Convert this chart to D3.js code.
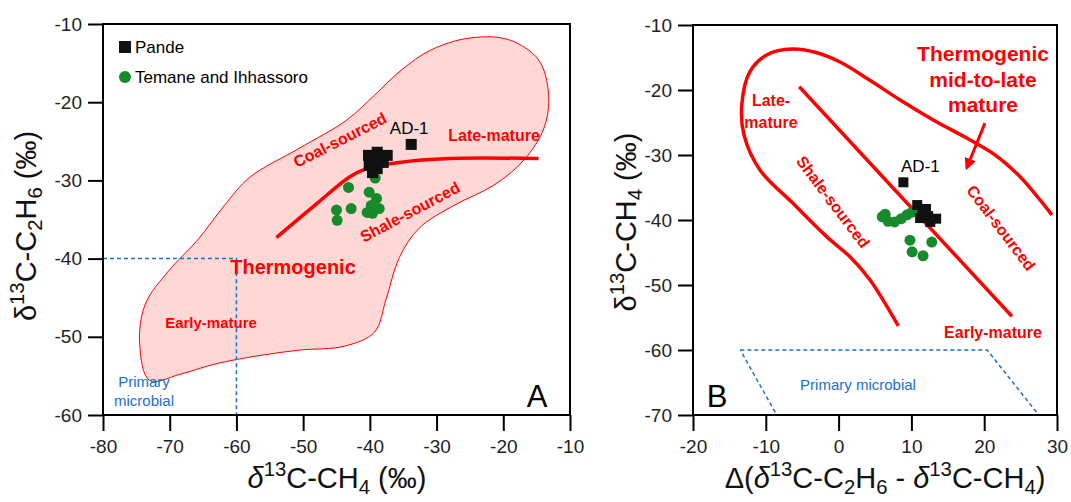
<!DOCTYPE html>
<html>
<head>
<meta charset="utf-8">
<script src="https://cdn.jsdelivr.net/npm/d3@7"></script>
<style>
  body { margin: 0; background: #fff; }
  svg { font-family: "Liberation Sans", Arial, sans-serif; }
</style>
</head>
<body>
<svg id="chart"></svg>
<script>
let w = 1071;
let h = 502;

// tick labels
const xTicksA = [-80, -70, -60, -50, -40, -30, -20, -10];
const yTicksA = [-60, -50, -40, -30, -20, -10];
const xTicksB = [-20, -10, 0, 10, 20, 30];
const yTicksB = [-70, -60, -50, -40, -30, -20, -10];

// panel A : d13C-CH4 vs d13C-C2H6
const pandeA = [[-40.2, -26.8], [-38.9, -26.4], [-37.4, -26.8], [-40.1, -28.1], [-38.9, -28.5],
                [-38.0, -27.7], [-39.6, -29.0], [-39.4, -27.4]];
const ad1A = [-33.8, -25.4];
const temaneA = [[-39.2, -29.7], [-43.2, -30.9], [-40.1, -31.5], [-39.0, -32.3], [-45.0, -33.8],
                 [-42.8, -33.6], [-39.8, -33.2], [-39.6, -34.2], [-44.9, -35.1], [-38.6, -33.6],
                 [-40.4, -34.1]];
// thermogenic field outline
const fieldA = [[-73.0, -55.6], [-74.5, -51.0], [-73.7, -45.9], [-70.3, -41.7], [-65.8, -37.6],
                [-61.8, -33.2], [-58.0, -29.6], [-50.6, -25.9], [-43.5, -22.3], [-39.3, -19.1],
                [-35.3, -15.9], [-30.8, -13.3], [-25.1, -11.8], [-19.2, -12.0], [-14.7, -14.6],
                [-13.2, -19.1], [-13.9, -23.3], [-16.9, -27.4], [-21.4, -30.6], [-27.4, -33.2],
                [-32.6, -36.1], [-35.6, -39.9], [-37.6, -45.3], [-39.3, -49.4], [-43.8, -51.2],
                [-50.6, -51.7], [-57.3, -52.5], [-63.3, -53.5], [-68.5, -54.8]];
// coal / shale divide
const divideA = [[-54.0, -37.3], [-48.0, -33.0], [-43.1, -29.6], [-40.5, -28.5], [-35.6, -27.7],
                 [-28.1, -27.2], [-14.7, -27.2]];
const microbialA = [[-80, -40], [-60, -40], [-60, -60], [-80, -60]];

// panel B : delta(C2H6 - CH4) vs d13C-CH4
const pandeB = [[10.8, -37.7], [11.5, -38.8], [12.3, -39.4], [13.4, -39.8], [12.6, -40.3],
                [11.2, -39.7], [12.0, -38.3]];
const ad1B = [8.9, -34.2];
const temaneB = [[6.0, -39.5], [6.8, -40.2], [7.7, -40.3], [8.6, -39.8], [9.4, -39.2],
                 [10.1, -38.8], [6.4, -39.1], [9.8, -43.1], [12.8, -43.4], [10.1, -44.9],
                 [11.6, -45.5]];
const envelopeB = [[8.2, -56.3], [4.3, -49.2], [1.6, -45.7], [-1.6, -42.6], [-6.3, -37.4],
                   [-10.8, -32.3], [-13.0, -26.9], [-13.3, -22.3], [-12.2, -17.2], [-9.7, -14.5],
                   [-6.4, -13.7], [-3.2, -14.2], [0.2, -15.7], [4.3, -18.5], [8.4, -21.5],
                   [13.0, -24.6], [17.6, -27.4], [21.5, -30.0], [24.9, -33.3], [27.3, -36.4],
                   [29.3, -39.2]];
const divideB = [[-5.4, -19.5], [23.8, -54.8]];
const arrowB = [[20.1, -25.1], [17.6, -32.0]];
const microbialB = [[-13.5, -60], [20.4, -60], [27.5, -70], [-8.5, -70]];

const RED = "#ff0000";
const BLUE = "#1a6fd0";
const GREEN = "#178a2b";

const svg = d3.select("#chart").attr("width", w).attr("height", h);

svg.append("defs").append("marker")
    .attr("id", "arr")
    .attr("viewBox", "0 0 10 10")
    .attr("refX", 8).attr("refY", 5)
    .attr("markerWidth", 4).attr("markerHeight", 4)
    .attr("orient", "auto")
    .append("path").attr("d", "M0,0 L10,5 L0,10 Z").attr("fill", RED);

// text with sub/superscripts
function richText(g, x, y, size, parts, anchor) {
    const t = g.append("text")
        .attr("x", x).attr("y", y)
        .attr("font-size", size)
        .attr("text-anchor", anchor || "middle")
        .attr("fill", "#111");
    let off = 0;
    parts.forEach(([s, kind]) => {
        let target = kind === "sup" ? -0.4 * size : kind === "sub" ? 0.2 * size : 0;
        const ts = t.append("tspan").attr("dy", target - off).text(s);
        if (kind === "sup" || kind === "sub") ts.attr("font-size", size * 0.7);
        if (kind === "it") ts.attr("font-style", "italic");
        off = target;
    });
    return t;
}

function redLabel(g, x, y, size, txt, rot) {
    g.append("text")
        .attr("transform", `translate(${x},${y}) rotate(${rot || 0})`)
        .attr("text-anchor", "middle")
        .attr("dominant-baseline", "central")
        .attr("font-size", size)
        .attr("font-weight", "bold")
        .attr("fill", RED)
        .text(txt);
}

function drawAxes(g, x, y, xTicks, yTicks) {
    const [x0, x1] = x.range();
    const [y0, y1] = y.range();
    g.append("g")
        .attr("transform", `translate(0,${y0})`)
        .call(d3.axisBottom(x).tickValues(xTicks).tickFormat(d => String(d))
            .tickSize(16).tickSizeOuter(0).tickPadding(9))
        .call(a => a.select(".domain").remove());
    g.append("g")
        .attr("transform", `translate(${x0},0)`)
        .call(d3.axisLeft(y).tickValues(yTicks).tickFormat(d => String(d))
            .tickSize(15).tickSizeOuter(0).tickPadding(6))
        .call(a => a.select(".domain").remove());
    g.selectAll(".tick line").attr("stroke", "#000").attr("stroke-width", 2);
    g.selectAll(".tick text").attr("font-size", 19).attr("fill", "#222")
        .attr("font-family", "'Liberation Sans', Arial, sans-serif");
    g.append("rect")
        .attr("x", x0).attr("y", y1)
        .attr("width", x1 - x0).attr("height", y0 - y1)
        .attr("fill", "none").attr("stroke", "#000").attr("stroke-width", 2);
}

// ---------- panel A ----------
const xA = d3.scaleLinear().domain([-80, -10]).range([103, 570]);
const yA = d3.scaleLinear().domain([-60, -10]).range([415, 24]);
const gA = svg.append("g");
const lineA = d3.line().x(d => xA(d[0])).y(d => yA(d[1]));

gA.append("path")
    .attr("d", lineA.curve(d3.curveCatmullRomClosed)(fieldA))
    .attr("fill", "#fdd8d6")
    .attr("stroke", RED)
    .attr("stroke-width", 1);

gA.append("path")
    .attr("d", d3.line().x(d => xA(d[0])).y(d => yA(d[1]))(microbialA))
    .attr("fill", "none")
    .attr("stroke", BLUE)
    .attr("stroke-width", 1.5)
    .attr("stroke-dasharray", "4,3");

gA.append("path")
    .attr("d", d3.line().x(d => xA(d[0])).y(d => yA(d[1])).curve(d3.curveCatmullRom)(divideA))
    .attr("fill", "none")
    .attr("stroke", RED)
    .attr("stroke-width", 3.5);

gA.selectAll("circle.tem")
    .data(temaneA)
    .enter()
    .append("circle")
        .attr("cx", d => xA(d[0]))
        .attr("cy", d => yA(d[1]))
        .attr("r", 5.5)
        .attr("fill", GREEN);

gA.selectAll("rect.pande")
    .data(pandeA.concat([ad1A]))
    .enter()
    .append("rect")
        .attr("x", d => xA(d[0]) - 5.5)
        .attr("y", d => yA(d[1]) - 5.5)
        .attr("width", 11).attr("height", 11)
        .attr("fill", "#111");

gA.append("text").attr("x", xA(ad1A[0]) - 2).attr("y", yA(ad1A[1]) - 10)
    .attr("text-anchor", "middle").attr("font-size", 17).text("AD-1");

redLabel(gA, 340, 140, 16, "Coal-sourced", -27);
redLabel(gA, 494, 135, 16, "Late-mature", 0);
redLabel(gA, 410, 212, 16, "Shale-sourced", -28);
redLabel(gA, 293, 267, 20, "Thermogenic", 0);
redLabel(gA, 211, 322, 15, "Early-mature", 0);

gA.append("text").attr("x", 144).attr("y", 387).attr("text-anchor", "middle")
    .attr("font-size", 15).attr("fill", BLUE).text("Primary");
gA.append("text").attr("x", 144).attr("y", 406).attr("text-anchor", "middle")
    .attr("font-size", 15).attr("fill", BLUE).text("microbial");

gA.append("text").attr("x", 537).attr("y", 407).attr("text-anchor", "middle")
    .attr("font-size", 31).text("A");

// legend
gA.append("rect").attr("x", 119).attr("y", 41).attr("width", 12).attr("height", 12).attr("fill", "#111");
gA.append("text").attr("x", 135).attr("y", 53).attr("font-size", 17).text("Pande");
gA.append("circle").attr("cx", 125).attr("cy", 77).attr("r", 6).attr("fill", GREEN);
gA.append("text").attr("x", 135).attr("y", 83).attr("font-size", 17).text("Temane and Ihhassoro");

drawAxes(gA, xA, yA, xTicksA, yTicksA);

richText(gA, 337, 488, 29, [["δ", "it"], ["13", "sup"], ["C-CH", ""], ["4", "sub"], [" (‰)", ""]]);
richText(gA.append("g").attr("transform", "translate(36,226) rotate(-90)"), 0, 0, 29,
    [["δ", ""], ["13", "sup"], ["C-C", ""], ["2", "sub"], ["H", ""], ["6", "sub"], [" (‰)", ""]]);

// ---------- panel B ----------
const xB = d3.scaleLinear().domain([-20, 30]).range([693, 1057]);
const yB = d3.scaleLinear().domain([-70, -10]).range([415, 25]);
const gB = svg.append("g");
const lineB = d3.line().x(d => xB(d[0])).y(d => yB(d[1]));

gB.append("path")
    .attr("d", lineB(microbialB.concat([microbialB[0]])))
    .attr("fill", "none")
    .attr("stroke", BLUE)
    .attr("stroke-width", 1.5)
    .attr("stroke-dasharray", "4,3");

gB.append("path")
    .attr("d", lineB.curve(d3.curveCatmullRom)(envelopeB))
    .attr("fill", "none")
    .attr("stroke", RED)
    .attr("stroke-width", 3.5);

gB.append("path")
    .attr("d", d3.line().x(d => xB(d[0])).y(d => yB(d[1]))(divideB))
    .attr("fill", "none")
    .attr("stroke", RED)
    .attr("stroke-width", 3.5);

gB.append("path")
    .attr("d", d3.line().x(d => xB(d[0])).y(d => yB(d[1]))(arrowB))
    .attr("fill", "none")
    .attr("stroke", RED)
    .attr("stroke-width", 3)
    .attr("marker-end", "url(#arr)");

gB.selectAll("circle.tem")
    .data(temaneB)
    .enter()
    .append("circle")
        .attr("cx", d => xB(d[0]))
        .attr("cy", d => yB(d[1]))
        .attr("r", 5.5)
        .attr("fill", GREEN);

gB.selectAll("rect.pande")
    .data(pandeB.concat([ad1B]))
    .enter()
    .append("rect")
        .attr("x", d => xB(d[0]) - 5)
        .attr("y", d => yB(d[1]) - 5)
        .attr("width", 10).attr("height", 10)
        .attr("fill", "#111");

gB.append("text").attr("x", xB(ad1B[0]) + 17).attr("y", yB(ad1B[1]) - 10)
    .attr("text-anchor", "middle").attr("font-size", 17).text("AD-1");

redLabel(gB, 983, 53, 21, "Thermogenic", 0);
redLabel(gB, 983, 79, 21, "mid-to-late", 0);
redLabel(gB, 983, 104, 21, "mature", 0);
redLabel(gB, 771, 100, 16, "Late-", 0);
redLabel(gB, 771, 122, 16, "mature", 0);
redLabel(gB, 833, 202, 16, "Shale-sourced", 53);
redLabel(gB, 1001, 228, 16, "Coal-sourced", 53);
redLabel(gB, 993, 332, 16, "Early-mature", 0);

gB.append("text").attr("x", 858).attr("y", 390).attr("text-anchor", "middle")
    .attr("font-size", 15).attr("fill", BLUE).text("Primary microbial");

gB.append("text").attr("x", 717).attr("y", 407).attr("text-anchor", "middle")
    .attr("font-size", 31).text("B");

drawAxes(gB, xB, yB, xTicksB, yTicksB);

richText(gB, 885, 488, 29, [["Δ(", ""], ["δ", "it"], ["13", "sup"], ["C-C", ""], ["2", "sub"], ["H", ""],
    ["6", "sub"], [" - ", ""], ["δ", "it"], ["13", "sup"], ["C-CH", ""], ["4", "sub"], [")", ""]]);
richText(gB.append("g").attr("transform", "translate(636,222) rotate(-90)"), 0, 0, 29,
    [["δ", ""], ["13", "sup"], ["C-CH", ""], ["4", "sub"], [" (‰)", ""]]);
</script>
</body>
</html>
